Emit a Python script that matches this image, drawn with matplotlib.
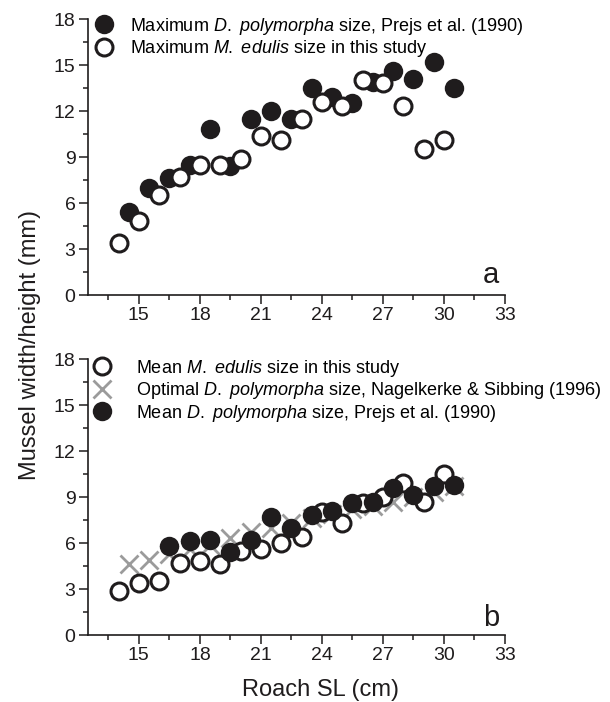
import matplotlib
matplotlib.use("Agg")
from matplotlib import pyplot as plt
from matplotlib.ticker import MultipleLocator

plt.rcParams["font.family"] = ["Liberation Sans", "DejaVu Sans"]
plt.rcParams["mathtext.fontset"] = "custom"
plt.rcParams["mathtext.rm"] = "Liberation Sans"
plt.rcParams["mathtext.it"] = "Liberation Sans:italic"

# datos
sl_entero = [14, 15, 16, 17, 18, 19, 20, 21, 22, 23, 24, 25, 26, 27, 28, 29, 30]  # talla de roach (cm)
sl_medio = [14.5, 15.5, 16.5, 17.5, 18.5, 19.5, 20.5, 21.5, 22.5, 23.5, 24.5, 25.5, 26.5, 27.5, 28.5, 29.5, 30.5]

# panel a
max_poly = [5.4, 7.0, 7.6, 8.5, 10.8, 8.4, 11.5, 12.0, 11.5, 13.5, 12.9, 12.5, 13.9, 14.6, 14.1, 15.2, 13.5]
max_edulis = [3.4, 4.8, 6.5, 7.7, 8.5, 8.5, 8.9, 10.4, 10.1, 11.5, 12.6, 12.3, 14.0, 13.8, 12.3, 9.5, 10.1]

# panel b
mean_edulis = [2.9, 3.4, 3.5, 4.7, 4.8, 4.6, 5.5, 5.6, 6.0, 6.4, 8.0, 7.3, 8.6, 9.0, 9.9, 8.7, 10.5]
opt_poly = [4.6, 4.9, 5.3, 5.6, 5.9, 6.3, 6.7, 7.0, 7.3, 7.6, 7.9, 8.2, 8.4, 8.7, 9.0, 9.3, 9.7]
sl_mean_poly = [16.5, 17.5, 18.5, 19.5, 20.5, 21.5, 22.5, 23.5, 24.5, 25.5, 26.5, 27.5, 28.5, 29.5, 30.5]
mean_poly = [5.8, 6.1, 6.2, 5.4, 6.2, 7.7, 7.0, 7.8, 8.1, 8.6, 8.7, 9.6, 9.1, 9.7, 9.8]

negro = "#1f1c1d"
gris = "#9b9b9b"

fig = plt.figure(figsize=(6.1, 7.02), dpi=100)
ax_a = fig.add_axes([88 / 610, 1 - 295 / 702, 417 / 610, 276 / 702])
ax_b = fig.add_axes([88 / 610, 1 - 635 / 702, 417 / 610, 276 / 702])

for ax in (ax_a, ax_b):
    ax.set_xlim(12.5, 33)
    ax.set_ylim(0, 18)
    ax.spines["top"].set_visible(False)
    ax.spines["right"].set_visible(False)
    ax.spines["left"].set_linewidth(1.2)
    ax.spines["bottom"].set_linewidth(1.2)
    ax.spines["left"].set_color(negro)
    ax.spines["bottom"].set_color(negro)
    ax.xaxis.set_major_locator(MultipleLocator(3))
    ax.xaxis.set_minor_locator(MultipleLocator(1.5))
    ax.yaxis.set_major_locator(MultipleLocator(3))
    ax.yaxis.set_minor_locator(MultipleLocator(1.5))
    ax.set_xticks([15, 18, 21, 24, 27, 30, 33])
    ax.tick_params(which="major", length=6.5, width=1.1, labelsize=14, pad=2.5, color=negro, labelcolor=negro)
    ax.tick_params(which="minor", length=3.5, width=1.1, color=negro)

# panel a: maximos
ax_a.plot(sl_medio, max_poly, "o", color=negro, markersize=14, markeredgewidth=0,
          label=r"Maximum $\it{D.}$ $\it{polymorpha}$ size, Prejs et al. (1990)", zorder=3)
ax_a.plot(sl_entero, max_edulis, "o", markerfacecolor="white", markeredgecolor=negro,
          markersize=12.2, markeredgewidth=2.2,
          label=r"Maximum $\it{M.}$ $\it{edulis}$ size in this study", zorder=4)
ax_a.legend(loc="upper left", bbox_to_anchor=(0.016, 1.012), frameon=False, fontsize=13,
            handlelength=1.0, handletextpad=0.95, labelspacing=0.08, borderpad=0,
            borderaxespad=0, numpoints=1)
ax_a.text(0.986, 0.045, "a", transform=ax_a.transAxes, ha="right", va="baseline",
          fontsize=21, color=negro)

# panel b: medias
l_x, = ax_b.plot(sl_medio, opt_poly, "x", color=gris, markersize=13, markeredgewidth=2.0,
                 label=r"Optimal $\it{D.}$ $\it{polymorpha}$ size, Nagelkerke & Sibbing (1996)", zorder=2)
l_o, = ax_b.plot(sl_entero, mean_edulis, "o", markerfacecolor="white", markeredgecolor=negro,
                 markersize=12.2, markeredgewidth=2.2,
                 label=r"Mean $\it{M.}$ $\it{edulis}$ size in this study", zorder=3)
l_f, = ax_b.plot(sl_mean_poly, mean_poly, "o", color=negro, markersize=14, markeredgewidth=0,
                 label=r"Mean $\it{D.}$ $\it{polymorpha}$ size, Prejs et al. (1990)", zorder=4)
ax_b.legend(handles=[l_o, l_x, l_f], loc="upper left", bbox_to_anchor=(0.012, 1.005),
            frameon=False, fontsize=13, handlelength=1.0, handletextpad=1.4,
            labelspacing=0.08, borderpad=0, borderaxespad=0, numpoints=1)
ax_b.text(0.986, 0.034, "b", transform=ax_b.transAxes, ha="right", va="baseline",
          fontsize=21, color=negro)

fig.text(30 / 610, 1 - 345 / 702, "Mussel width/height (mm)", rotation=90,
         ha="center", va="center", fontsize=17, color=negro)
fig.text(320 / 610, 1 - 696 / 702, "Roach SL (cm)", ha="center", va="baseline",
         fontsize=17, color=negro)

fig.savefig("out.png", dpi=100)
